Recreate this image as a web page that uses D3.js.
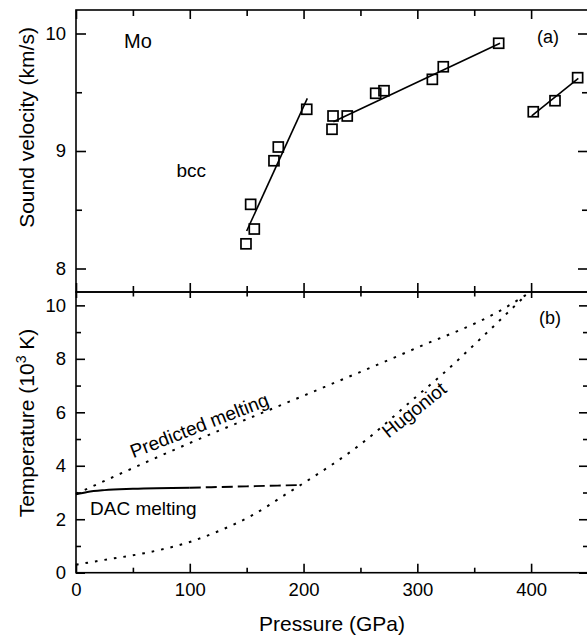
<!DOCTYPE html>
<html>
<head>
<meta charset="utf-8">
<script src="https://cdn.jsdelivr.net/npm/d3@7"></script>
<style>
  html, body { margin: 0; padding: 0; background: #fff; }
  svg { display: block; }
  text { font-family: "Liberation Sans", Arial, Helvetica, sans-serif; fill: #000; }
</style>
</head>
<body>
<script>
// ---- (a) sound velocity of Mo along the Hugoniot ----
const soundPressure = [149.4, 153.5, 156.7, 174.0, 177.8, 202.8, 225.0, 225.9, 238.4,
                       263.4, 270.7, 313.2, 322.8, 371.5, 401.9, 421.0, 440.9];
const soundVelocity = [8.21, 8.546, 8.336, 8.917, 9.034, 9.355, 9.185, 9.298, 9.298,
                       9.491, 9.513, 9.61, 9.717, 9.917, 9.334, 9.428, 9.624];
// linear fits through the three groups of points: [pressure, velocity] end points
const fitLow  = [[150.0, 8.319], [203.3, 9.448]];
const fitMid  = [[226.2, 9.249], [372.7, 9.917]];
const fitHigh = [[400.5, 9.298], [441.5, 9.619]];

// ---- (b) temperature curves ----
const predictedP = [0, 100, 200, 300, 371, 396];
const predictedT = [2.95, 4.85, 6.62, 8.42, 9.76, 10.4];
const hugoniotP  = [0, 25, 60, 100, 125, 155, 185, 200, 250, 300, 323, 355, 396];
const hugoniotT  = [0.3, 0.48, 0.73, 1.15, 1.55, 2.15, 2.95, 3.35, 4.8, 6.62, 7.46, 8.73, 10.41];
const dacSolidP  = [0, 10, 25, 50, 100];
const dacSolidT  = [2.93, 3.02, 3.09, 3.14, 3.18];
const dacDashP   = [100, 150, 197];
const dacDashT   = [3.18, 3.23, 3.28];

// ---- ticks ----
const pressureMajor = [0, 100, 200, 300, 400];
const pressureMinor = [50, 150, 250, 350];
const velocityMajor = [8, 9, 10];
const velocityMinor = [8.5, 9.5];
const tempMajor = [0, 2, 4, 6, 8, 10];
const tempMinor = [1, 3, 5, 7, 9];

const W = 587, H = 639;
const left = 76, right = 588;
const topA = 10, midY = 292, botB = 572.7;

const svg = d3.select("body").append("svg")
  .attr("width", W).attr("height", H);
svg.append("rect").attr("width", W).attr("height", H).attr("fill", "#fff");

const x = d3.scaleLinear().domain([0, 450]).range([left, right]);
const yA = d3.scaleLinear().domain([7.8, 10.2]).range([midY, topA]);
const yB = d3.scaleLinear().domain([0, 10.5]).range([botB, midY]);

const SW = 1.6;
const TICK_FONT = 18.5;

function drawAxis(gen, transform, values, size, labels) {
  const g = svg.append("g").attr("transform", transform)
    .call(gen.tickValues(values).tickSizeInner(size).tickSizeOuter(0)
      .tickPadding(labels ? 10 : 0)
      .tickFormat(labels ? d3.format("d") : () => ""));
  g.select(".domain").remove();
  g.selectAll(".tick line").attr("stroke", "#000").attr("stroke-width", SW);
  g.selectAll(".tick text").attr("font-size", TICK_FONT)
    .attr("font-family", "Liberation Sans, Arial, sans-serif").attr("fill", "#000");
  return g;
}

// ----- panel (a) axes -----
drawAxis(d3.axisLeft(yA), `translate(${left},0)`, velocityMajor, -10, true);
drawAxis(d3.axisLeft(yA), `translate(${left},0)`, velocityMinor, -6, false);
drawAxis(d3.axisRight(yA), `translate(${right},0)`, velocityMajor, -10, false);
drawAxis(d3.axisRight(yA), `translate(${right},0)`, velocityMinor, -6, false);
drawAxis(d3.axisTop(x), `translate(0,${topA})`, pressureMajor, -9, false);
drawAxis(d3.axisTop(x), `translate(0,${topA})`, pressureMinor, -6, false);
drawAxis(d3.axisBottom(x), `translate(0,${midY})`, pressureMajor, -9, false);
drawAxis(d3.axisBottom(x), `translate(0,${midY})`, pressureMinor, -6, false);

// ----- panel (b) axes -----
drawAxis(d3.axisLeft(yB), `translate(${left},0)`, tempMajor, -9, true);
drawAxis(d3.axisLeft(yB), `translate(${left},0)`, tempMinor, -5, false);
drawAxis(d3.axisRight(yB), `translate(${right},0)`, tempMajor, -9, false);
drawAxis(d3.axisRight(yB), `translate(${right},0)`, tempMinor, -5, false);
drawAxis(d3.axisTop(x), `translate(0,${midY})`, pressureMajor, -6, false);
drawAxis(d3.axisTop(x), `translate(0,${midY})`, pressureMinor, -4.5, false);
drawAxis(d3.axisBottom(x), `translate(0,${botB})`, pressureMajor, -9, true);
drawAxis(d3.axisBottom(x), `translate(0,${botB})`, pressureMinor, -5, false);

// frames
[[topA, midY], [midY, botB]].forEach(([t, b]) => {
  svg.append("rect").attr("x", left).attr("y", t)
    .attr("width", right - left).attr("height", b - t)
    .attr("fill", "none").attr("stroke", "#000").attr("stroke-width", SW);
});

// ----- panel (a) data -----
const lineA = d3.line().x(d => x(d[0])).y(d => yA(d[1]));
[fitLow, fitMid, fitHigh].forEach(seg => {
  svg.append("path").attr("d", lineA(seg))
    .attr("fill", "none").attr("stroke", "#000").attr("stroke-width", 1.6);
});
const sq = 10;
svg.append("g").selectAll("rect")
  .data(soundPressure.map((p, i) => [p, soundVelocity[i]]))
  .join("rect")
  .attr("x", d => x(d[0]) - sq / 2).attr("y", d => yA(d[1]) - sq / 2)
  .attr("width", sq).attr("height", sq)
  .attr("fill", "none").attr("stroke", "#000").attr("stroke-width", 1.7);

// ----- panel (b) data -----
const lineB = d3.line().x(d => x(d[0])).y(d => yB(d[1])).curve(d3.curveMonotoneX);
const zip = (a, b) => a.map((v, i) => [v, b[i]]);
svg.append("path").attr("d", lineB(zip(predictedP, predictedT)))
  .attr("fill", "none").attr("stroke", "#000").attr("stroke-width", 2)
  .attr("stroke-dasharray", "2.6,7");
svg.append("path").attr("d", lineB(zip(hugoniotP, hugoniotT)))
  .attr("fill", "none").attr("stroke", "#000").attr("stroke-width", 2)
  .attr("stroke-dasharray", "2.6,7");
svg.append("path").attr("d", lineB(zip(dacSolidP, dacSolidT)))
  .attr("fill", "none").attr("stroke", "#000").attr("stroke-width", 1.9);
svg.append("path").attr("d", lineB(zip(dacDashP, dacDashT)))
  .attr("fill", "none").attr("stroke", "#000").attr("stroke-width", 1.9)
  .attr("stroke-dasharray", "11,5");

// ----- labels -----
function label(txt, px, py, size, opts = {}) {
  const t = svg.append("text").attr("x", px).attr("y", py)
    .attr("font-size", size).text(txt);
  if (opts.anchor) t.attr("text-anchor", opts.anchor);
  if (opts.rotate !== undefined) t.attr("transform", `rotate(${opts.rotate},${px},${py})`);
  return t;
}
label("Mo", 124, 48, 20);
label("(a)", 537, 43, 18);
label("(b)", 539, 324, 18);
label("bcc", 176.5, 176.5, 19);
label("DAC melting", 90, 515, 19);
label("Predicted melting", 201.7, 431.7, 19, { anchor: "middle", rotate: -21.3 });
label("Hugoniot", 418.3, 415, 19, { anchor: "middle", rotate: -38.7 });

// axis titles
label("Pressure (GPa)", (left + right) / 2, 631, 21, { anchor: "middle" });
label("Sound velocity (km/s)", 34, 127.5, 21, { anchor: "middle", rotate: -90 });
const tt = svg.append("text").attr("x", 34).attr("y", 423)
  .attr("font-size", 21).attr("text-anchor", "middle")
  .attr("transform", "rotate(-90,34,423)");
tt.append("tspan").text("Temperature (10");
tt.append("tspan").attr("font-size", 14).attr("dy", -8).text("3");
tt.append("tspan").attr("dy", 8).text(" K)");
</script>
</body>
</html>
